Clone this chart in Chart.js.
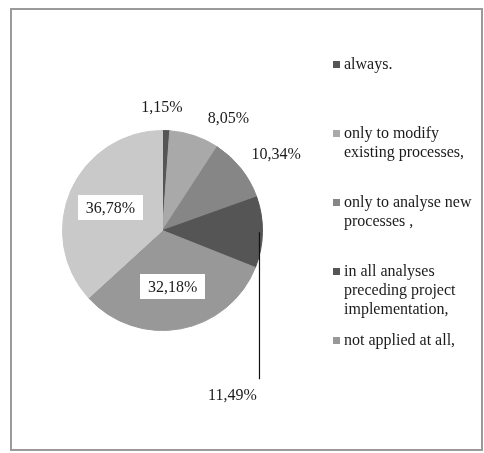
<!DOCTYPE html>
<html>
<head>
<meta charset="utf-8">
<script src="https://cdn.jsdelivr.net/npm/chart.js@4/dist/chart.umd.min.js"></script>
<style>
  html, body { margin: 0; padding: 0; background: #ffffff; }
  #wrap { position: relative; width: 484px; height: 453px; }
</style>
</head>
<body>
<div id="wrap"><canvas id="c" width="484" height="453"></canvas></div>
<script>
// ---- data ----
const categories = [
  ["always."],
  ["only to modify", "existing processes,"],
  ["only to analyse new", "processes ,"],
  ["in all analyses", "preceding project", "implementation,"],
  ["not applied at all,"],
  [""]
];
const values = [1.15, 8.05, 10.34, 11.49, 32.18, 36.78];
const sliceColors = ["#555555", "#a9a9a9", "#868686", "#555555", "#989898", "#c9c9c9"];

// ---- styling for labels (relative to each arc's geometry) ----
const labelStyles = [
  { type: "out", k: 1.24, dx: -5, dy: 1 },
  { type: "out", k: 1.31, dx: 24, dy: 12 },
  { type: "out", k: 1.37, dx: 6, dy: 9 },
  { type: "leader", k: 0.97, len: 147, dx: -27, dy: 17 },
  { type: "box", k: 0.57 },
  { type: "box", k: 0.57 }
];
const FONT = "16px 'Liberation Serif', 'Times New Roman', serif";

function fmt(v) { return v.toFixed(2).replace(".", ",") + "%"; }

const framePlugin = {
  id: "frame",
  beforeDraw(chart) {
    const ctx = chart.ctx;
    ctx.save();
    ctx.fillStyle = "#ffffff";
    ctx.fillRect(0, 0, chart.width, chart.height);
    ctx.strokeStyle = "#9a9a9a";
    ctx.lineWidth = 2;
    ctx.strokeRect(11, 9, 471, 441);
    ctx.restore();
  }
};

const labelPlugin = {
  id: "sliceLabels",
  afterDatasetsDraw(chart) {
    const ctx = chart.ctx;
    const meta = chart.getDatasetMeta(0);
    const data = chart.data.datasets[0].data;
    ctx.save();
    ctx.font = FONT;
    ctx.textAlign = "center";
    ctx.textBaseline = "middle";
    meta.data.forEach((arc, i) => {
      const p = arc.getProps(["x", "y", "startAngle", "endAngle", "outerRadius"], true);
      const mid = (p.startAngle + p.endAngle) / 2;
      const st = labelStyles[i];
      const txt = fmt(data[i]);
      const R = p.outerRadius;
      if (st.type === "out") {
        const x = p.x + Math.cos(mid) * R * st.k + st.dx;
        const y = p.y + Math.sin(mid) * R * st.k + st.dy;
        ctx.fillStyle = "#1a1a1a";
        ctx.fillText(txt, x, y);
      } else if (st.type === "leader") {
        const x0 = p.x + Math.cos(mid) * R * st.k;
        const y0 = p.y + Math.sin(mid) * R * st.k;
        ctx.strokeStyle = "#111111";
        ctx.lineWidth = 1.2;
        ctx.beginPath();
        ctx.moveTo(x0, y0);
        ctx.lineTo(x0, y0 + st.len);
        ctx.stroke();
        ctx.fillStyle = "#1a1a1a";
        ctx.fillText(txt, x0 + st.dx, y0 + st.len + st.dy);
      } else {
        const x = p.x + Math.cos(mid) * R * st.k;
        const y = p.y + Math.sin(mid) * R * st.k;
        const w = ctx.measureText(txt).width + 16;
        const h = 25;
        ctx.fillStyle = "#ffffff";
        ctx.fillRect(Math.round(x - w / 2), Math.round(y - h / 2), Math.round(w), h);
        ctx.fillStyle = "#1a1a1a";
        ctx.fillText(txt, x, y + 1);
      }
    });
    ctx.restore();
  }
};

const legendPlugin = {
  id: "sideLegend",
  afterDraw(chart) {
    const ctx = chart.ctx;
    const labels = chart.data.labels;
    const colors = chart.data.datasets[0].backgroundColor;
    const x0 = 333, y0 = 65, step = 69, lineH = 19;
    ctx.save();
    ctx.font = FONT;
    ctx.textAlign = "left";
    ctx.textBaseline = "middle";
    let n = 0;
    labels.forEach((lines, i) => {
      if (!lines || !lines.join("")) return;
      const y = y0 + n * step;
      ctx.fillStyle = colors[i];
      ctx.fillRect(x0, y - 4, 7, 7);
      ctx.fillStyle = "#1a1a1a";
      lines.forEach((ln, j) => ctx.fillText(ln, x0 + 11, y + j * lineH));
      n++;
    });
    ctx.restore();
  }
};

new Chart(document.getElementById("c"), {
  type: "pie",
  data: {
    labels: categories,
    datasets: [{
      data: values,
      backgroundColor: sliceColors,
      borderColor: sliceColors,
      borderWidth: 1
    }]
  },
  options: {
    responsive: false,
    animation: false,
    events: [],
    layout: { padding: { left: 62, right: 221, top: 130, bottom: 122 } },
    plugins: {
      legend: { display: false },
      tooltip: { enabled: false }
    }
  },
  plugins: [framePlugin, labelPlugin, legendPlugin]
});
</script>
</body>
</html>
